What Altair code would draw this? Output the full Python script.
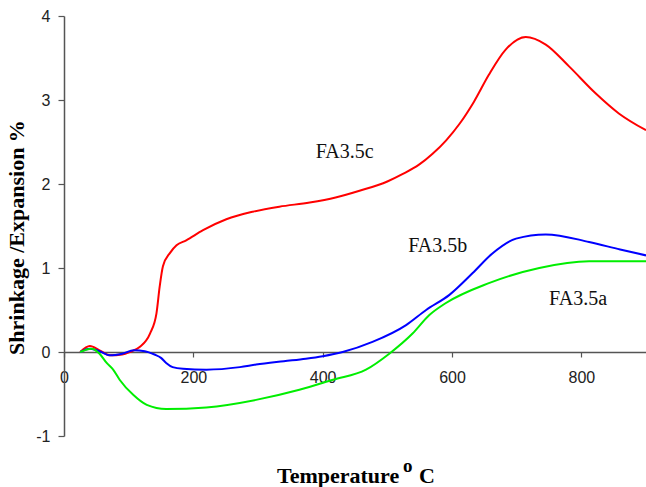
import altair as alt
import pandas as pd

# FA3.5c (red)
c_x = [25, 40, 55, 71, 90, 102, 117, 133, 143, 148, 153, 164, 174, 189, 215, 251, 292, 333, 380, 420,
       457, 500, 524, 549, 570, 591, 612, 634, 657, 683, 714, 745, 781, 822, 858, 900]
c_y = [0, 0.07, 0.02, -0.04, -0.03, 0.0, 0.06, 0.22, 0.46, 0.78, 1.02, 1.18, 1.27, 1.33, 1.45, 1.58, 1.67, 1.73, 1.78, 1.84,
       1.92, 2.03, 2.12, 2.23, 2.36, 2.52, 2.72, 2.98, 3.30, 3.60, 3.75, 3.66, 3.40, 3.08, 2.84, 2.64]
# FA3.5b (blue)
b_x = [25, 40, 55, 71, 90, 108, 125, 140, 150, 158, 168, 184, 220, 272, 297, 340, 374, 400, 431, 477,
       529, 560, 596, 632, 662, 699, 745, 812, 860, 900]
b_y = [0, 0.04, 0.01, -0.04, -0.02, 0.02, 0.01, -0.03, -0.07, -0.13, -0.18, -0.2, -0.21, -0.18, -0.15, -0.11, -0.08, -0.05, 0.0, 0.12,
       0.32, 0.5, 0.68, 0.94, 1.17, 1.35, 1.40, 1.31, 1.22, 1.15]
# FA3.5a (green)
a_x = [25, 43, 55, 66, 76, 86, 107, 128, 158, 220, 297, 364, 416, 467, 503, 539, 565, 590, 657, 735, 812, 900]
a_y = [0, 0.04, -0.02, -0.13, -0.21, -0.33, -0.51, -0.63, -0.68, -0.66, -0.57, -0.45, -0.33, -0.21, -0.02, 0.22,
       0.44, 0.58, 0.82, 1.0, 1.08, 1.08]

series_names = ["FA3.5c", "FA3.5b", "FA3.5a"]
series_colors = ["#ff0000", "#0000ff", "#00ee00"]

label_text = ["FA3.5c", "FA3.5b", "FA3.5a"]
label_x = [434, 578, 795]
label_y = [2.31, 1.19, 0.56]

x_ticks = [0, 200, 400, 600, 800]
y_ticks = [-1, 0, 1, 2, 3, 4]

rows = []
for name, xs, ys in [("FA3.5c", c_x, c_y), ("FA3.5b", b_x, b_y), ("FA3.5a", a_x, a_y)]:
    for i, (xv, yv) in enumerate(zip(xs, ys)):
        rows.append({"series": name, "T": xv, "v": yv, "order": i})
df = pd.DataFrame(rows)
labels_df = pd.DataFrame({"text": label_text, "T": label_x, "v": label_y})

xscale = alt.Scale(domain=[0, 900], nice=False, zero=False)
yscale = alt.Scale(domain=[-1, 4], nice=False, zero=False)

lines = alt.Chart(df).mark_line(strokeWidth=2, interpolate="monotone").encode(
    x=alt.X("T:Q", scale=xscale,
            axis=alt.Axis(values=x_ticks, title=None, grid=False, offset=-84, tickSize=5,
                          labelPadding=12, labelFlush=False, labelFont="Liberation Sans",
                          labelFontSize=16, labelColor="#222", domainColor="#555", tickColor="#555",
                          domainWidth=1.5, tickWidth=1.2, labelExpr="'' + datum.value")),
    y=alt.Y("v:Q", scale=yscale,
            axis=alt.Axis(values=y_ticks, title="Shrinkage /Expansion %", grid=False, tickSize=6,
                          labelPadding=8, labelFlush=False, labelFont="Liberation Sans",
                          labelFontSize=16, labelColor="#222", domainColor="#555", tickColor="#555",
                          domainWidth=1.5, tickWidth=1.2, labelExpr="'' + datum.value",
                          titleFont="Liberation Serif", titleFontSize=22, titleFontWeight="bold",
                          titleColor="#000", titleX=-41, titleY=221, titleBaseline="alphabetic")),
    color=alt.Color("series:N", scale=alt.Scale(domain=series_names, range=series_colors), legend=None),
    order="order:Q",
)

labels = alt.Chart(labels_df).mark_text(font="Liberation Serif", fontSize=20, color="#111",
                                        align="center", baseline="alphabetic").encode(
    x=alt.X("T:Q", scale=xscale), y=alt.Y("v:Q", scale=yscale), text="text:N")

xt1 = alt.Chart(pd.DataFrame({"t": ["Temperature"]})).mark_text(
    font="Liberation Serif", fontSize=22, fontWeight="bold", color="#000", align="left",
    baseline="alphabetic").encode(x=alt.value(213), y=alt.value(467), text="t:N")
xt2 = alt.Chart(pd.DataFrame({"t": ["o"]})).mark_text(
    font="Liberation Serif", fontSize=19, fontWeight="bold", color="#000", align="left",
    baseline="alphabetic").encode(x=alt.value(339), y=alt.value(456), text="t:N")
xt3 = alt.Chart(pd.DataFrame({"t": ["C"]})).mark_text(
    font="Liberation Serif", fontSize=22, fontWeight="bold", color="#000", align="left",
    baseline="alphabetic").encode(x=alt.value(355), y=alt.value(467), text="t:N")

chart = alt.layer(lines, labels, xt1, xt2, xt3).properties(
    width=582, height=420,
    autosize=alt.AutoSizeParams(type="none"),
    padding={"left": 64, "top": 16, "right": 0, "bottom": 51},
    background="white",
).configure_view(stroke=None)

chart.save("out.html", embed_options={"renderer": "svg", "actions": False})
